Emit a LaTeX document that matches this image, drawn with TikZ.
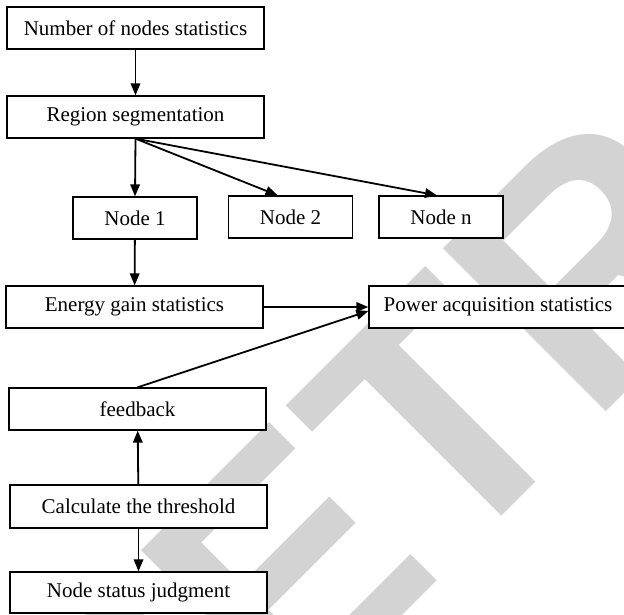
\documentclass[tikz,border=0pt]{standalone}
\usepackage{fontspec}
\setmainfont{Liberation Serif}
\newfontfamily\wmfont{Liberation Sans}
\usetikzlibrary{arrows.meta}
\definecolor{wmgray}{RGB}{211,211,211}

\begin{document}
\begin{tikzpicture}[x=1pt, y=-1pt,
    box/.style={draw, line width=1.3pt, fill=white, minimum height=42pt,
        inner sep=0pt, font=\fontsize{21}{25}\selectfont},
    wide/.style={box, minimum width=257pt},
    small/.style={box, minimum width=124pt},
    link/.style={line width=1.8pt, -{Triangle[length=12pt, width=9.5pt]}}]
\useasboundingbox (0,0) rectangle (624,614);
\clip (0,0) rectangle (624,614);

% watermark
\node[wmgray, anchor=base west, rotate=45, inner sep=0pt,
    font=\wmfont\bfseries\fontsize{335}{335}\selectfont]
    (stamp) at (117,901) {RETRACTED};

\node[wide] (count) at (135.5,28) {Number of nodes statistics};
\node[wide] (region) at (135.5,117) {Region segmentation};
\node[small] (node1) at (135,218) {Node 1};
\node[small] (node2) at (290.5,217) {Node 2};
\node[small] (noden) at (441,217) {Node n};
\node[wide] (energy) at (134.5,307) {Energy gain statistics};
\node[box, minimum width=258pt] (power) at (498,307) {Power acquisition statistics};
\node[wide] (feedback) at (137.5,409) {feedback};
\node[wide, minimum height=43pt] (thresh) at (138.5,506.5) {Calculate the threshold};
\node[wide, minimum height=41pt] (judge) at (138.5,592.5) {Node status judgment};

\draw[link] (count) -- (region);
\draw[link] (region.south) -- (node1.north);
\draw[link] (region.south) -- ([xshift=-13pt]node2.north);
\draw[link] (region.south) -- ([xshift=-4pt]noden.north);
\draw[link] (node1) -- (energy);
\draw[link] (energy) -- (power);
\draw[link] (feedback.north) -- ([yshift=-4pt]power.west);
\draw[link] (thresh) -- (feedback);
\draw[link] (thresh) -- (judge);
\end{tikzpicture}
\end{document}
